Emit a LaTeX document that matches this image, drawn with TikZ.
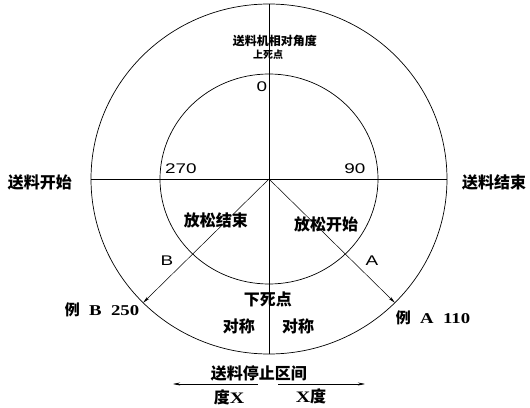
\documentclass[tikz,border=0pt]{standalone}
\usepackage{fontspec}
\setmainfont{Liberation Serif}
\newfontfamily\cjk{Noto Sans CJK SC}
\newfontfamily\cad{Liberation Sans}[FakeStretch=1.35]
\newfontfamily\wide{Liberation Serif}[FakeStretch=1.25]
\usetikzlibrary{arrows.meta}

\begin{document}
\begin{tikzpicture}[
    x=1pt, y=1pt,
    line width=0.7pt,
    every node/.style={inner sep=0pt, align=center},
    % 粗体中文标签
    lbl/.style={font=\cjk\bfseries\fontsize{16}{16}\selectfont},
    % 小号中文标签
    small/.style={font=\cjk\bfseries\fontsize{12}{12}\selectfont},
    % 细线数字与字母 (CAD 字体)
    num/.style={font=\cad\fontsize{14}{14}\selectfont},
    % 例 A / 例 B
    ex/.style={font=\wide\bfseries\fontsize{15}{15}\selectfont},
    % 带箭头的细线
    tip/.style={-{Stealth[length=7pt,width=3pt]}, line width=0.5pt}
]
\useasboundingbox (-269,-228) rectangle (261,179);

% --- 圆心与圆上各点 ---
\coordinate (O) at (0,0);
\coordinate (top) at (90:178 and 175);
\coordinate (bot) at (270:178 and 175);
\coordinate (lft) at (180:178 and 175);
\coordinate (rgt) at (0:178 and 175);
\coordinate (pA) at (-45:178 and 175);
\coordinate (pB) at (-135:178 and 175);

% --- 两个圆 ---
\draw (O) ellipse [x radius=178, y radius=175];
\draw (O) ellipse [x radius=109, y radius=105];

% --- 十字线 ---
\draw (top) -- (bot);
\draw (lft) -- (rgt);

% --- 斜线 A / B ---
\draw[tip] (O) -- (pA);
\draw[tip] (O) -- (pB);

% --- 角度 ---
\node[num] (a0) at (-7,92) {0};
\node[num] (a270) at (-88,10) {270};
\node[num] (a90) at (86,10) {90};
\node[num] (lB) at (-102,-82) {B};
\node[num] (lA) at (103,-82) {A};

% --- 文字 ---
\node[small] (title) at (6,138) {送料机相对角度};
\node[small, font=\cjk\bfseries\fontsize{10}{10}\selectfont] (tdc) at (-1,124) {上死点};
\node[lbl] (fstart) at (-229,-3) {送料开始};
\node[lbl] (fend) at (225,-3) {送料结束};
\node[lbl] (rend) at (-53,-41) {放松结束};
\node[lbl] (rstart) at (57,-45) {放松开始};
\node[lbl] (bdc) at (-1,-120) {下死点};
\node[lbl] (symL) at (-30,-147) {对称};
\node[lbl] (symR) at (29,-147) {对称};
\node[ex] (exB) at (-167,-131) {{\cjk 例}\ \ B\ \ 250};
\node[ex] (exA) at (164,-139) {{\cjk 例}\ \ A\ \ 110};

% --- 送料停止区间 ---
\node[lbl] (stop) at (-10,-194) {送料停止区间};
\coordinate (sL0) at (-11,-205);
\coordinate (sL1) at (-96,-205);
\coordinate (sR0) at (9,-205);
\coordinate (sR1) at (96,-205);
\draw[tip] (sL0) -- (sL1);
\draw[tip] (sR0) -- (sR1);
\node[lbl] (degL) at (-40,-218) {度{\wide X}};
\node[lbl] (degR) at (42,-217) {{\wide X}度};

\end{tikzpicture}
\end{document}
